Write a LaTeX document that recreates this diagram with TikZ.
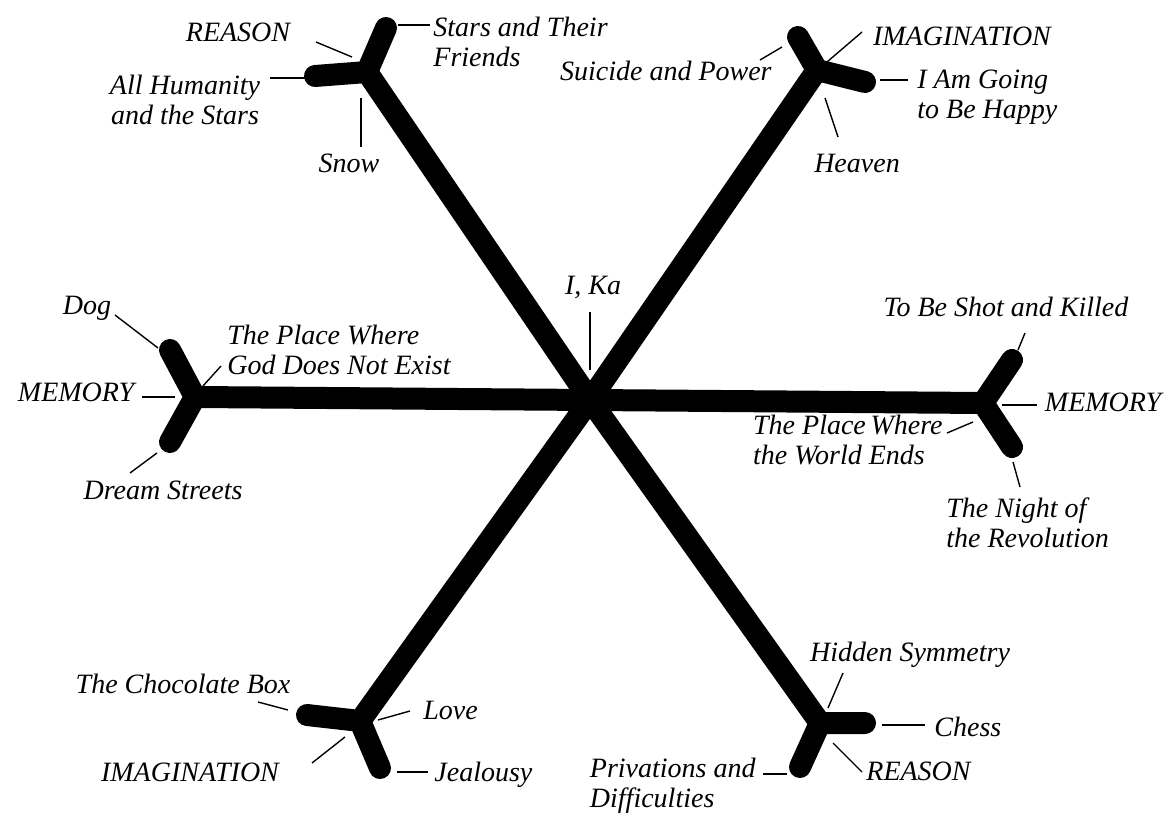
\documentclass[tikz,border=0pt]{standalone}
\usepackage{fontspec}
\setmainfont{Liberation Serif}
\begin{document}
\begin{tikzpicture}[x=0.5pt,y=-0.5pt,
  arm/.style={line width=11pt,line cap=round,line join=round},
  tick/.style={line width=0.7pt},
  lbl/.style={inner sep=0pt,font=\itshape\fontsize{14pt}{15pt}\selectfont}]
\useasboundingbox[fill=white] (0,0) rectangle (1172,823);
% centre and arms
\coordinate (C) at (590,400);
\coordinate (J1) at (367,72);  \coordinate (J1a) at (386,28);  \coordinate (J1b) at (315,76);
\coordinate (J2) at (817,70);  \coordinate (J2a) at (798,37);  \coordinate (J2b) at (865,82);
\coordinate (J3) at (195,397); \coordinate (J3a) at (170,350); \coordinate (J3b) at (170,442);
\coordinate (J4) at (983,403); \coordinate (J4a) at (1012,360); \coordinate (J4b) at (1012,447);
\coordinate (J5) at (360,721); \coordinate (J5a) at (307,715); \coordinate (J5b) at (380,768);
\coordinate (J6) at (820,723); \coordinate (J6a) at (865,723); \coordinate (J6b) at (800,767);
\foreach \j in {J1,J2,J3,J4,J5,J6}{
  \draw[arm] (C) -- (\j);
  \draw[arm] (\j a) -- (\j) -- (\j b);
}
% labels
\node[lbl] (ika) at (593,287) {I, Ka};
\node[lbl] (r1) at (238,32) {REASON};
\node[lbl,anchor=west,align=left] (stars) at (433,42) {Stars and Their\\Friends};
\node[lbl,align=center] (allh) at (185,100) {All Humanity\\and the Stars};
\node[lbl] (snow) at (349,163) {Snow};
\node[lbl,anchor=east] (suicide) at (772,71) {Suicide and Power};
\node[lbl] (imag1) at (962,36) {IMAGINATION};
\node[lbl,anchor=west,align=left] (happy) at (917,97) {I Am Going\\to Be Happy};
\node[lbl] (heaven) at (857,163) {Heaven};
\node[lbl] (dog) at (87,308) {Dog};
\node[lbl] (mem1) at (76,392) {MEMORY};
\node[lbl,anchor=west,align=left] (god) at (227,350) {The Place Where\\God Does Not Exist};
\node[lbl] (dream) at (163,490) {Dream Streets};
\node[lbl] (shot) at (1006,307) {To Be Shot and Killed};
\node[lbl] (mem2) at (1103,402) {MEMORY};
\node[lbl,anchor=east,align=left] (world) at (943,440) {The Place\,Where\\the World Ends};
\node[lbl,anchor=west,align=left] (night) at (946,523) {The Night of\\the Revolution};
\node[lbl] (choc) at (183,684) {The Chocolate Box};
\node[lbl] (imag2) at (190,772) {IMAGINATION};
\node[lbl,anchor=west] (love) at (423,710) {Love};
\node[lbl,anchor=west] (jeal) at (434,775) {Jealousy};
\node[lbl] (hidden) at (910,655) {Hidden Symmetry};
\node[lbl,anchor=west] (chess) at (934,727) {Chess};
\node[lbl,anchor=west] (reason2) at (866,771) {REASON};
\node[lbl,anchor=east,align=left] (priv) at (756,786) {Privations and\\Difficulties};
% ticks
\draw[tick] (590,312) coordinate (ikaA) -- (590,370) coordinate (ikaB);
\draw[tick] (316,42) coordinate (r1A) -- (352,57) coordinate (r1B);
\draw[tick] (398,25) coordinate (stA) -- (430,25) coordinate (stB);
\draw[tick] (270,78) coordinate (ahA) -- (305,78) coordinate (ahB);
\draw[tick] (361,98) coordinate (snA) -- (361,147) coordinate (snB);
\draw[tick] (760,60) coordinate (suA) -- (782,47) coordinate (suB);
\draw[tick] (827,62) coordinate (imA) -- (862,32) coordinate (imB);
\draw[tick] (880,80) coordinate (haA) -- (908,80) coordinate (haB);
\draw[tick] (825,98) coordinate (heA) -- (838,137) coordinate (heB);
\draw[tick] (115,315) coordinate (doA) -- (158,348) coordinate (doB);
\draw[tick] (142,397) coordinate (m1A) -- (175,397) coordinate (m1B);
\draw[tick] (203,386) coordinate (goA) -- (221,366) coordinate (goB);
\draw[tick] (130,473) coordinate (drA) -- (157,453) coordinate (drB);
\draw[tick] (1025,333) coordinate (shA) -- (1018,350) coordinate (shB);
\draw[tick] (1002,405) coordinate (m2A) -- (1037,405) coordinate (m2B);
\draw[tick] (947,433) coordinate (woA) -- (973,422) coordinate (woB);
\draw[tick] (1013,462) coordinate (niA) -- (1020,487) coordinate (niB);
\draw[tick] (258,702) coordinate (chA) -- (288,710) coordinate (chB);
\draw[tick] (312,763) coordinate (i2A) -- (345,737) coordinate (i2B);
\draw[tick] (378,720) coordinate (loA) -- (410,711) coordinate (loB);
\draw[tick] (397,772) coordinate (jeA) -- (428,772) coordinate (jeB);
\draw[tick] (843,673) coordinate (hiA) -- (828,708) coordinate (hiB);
\draw[tick] (882,725) coordinate (csA) -- (925,725) coordinate (csB);
\draw[tick] (833,743) coordinate (r2A) -- (862,772) coordinate (r2B);
\draw[tick] (763,774) coordinate (prA) -- (787,774) coordinate (prB);
\end{tikzpicture}
\end{document}
